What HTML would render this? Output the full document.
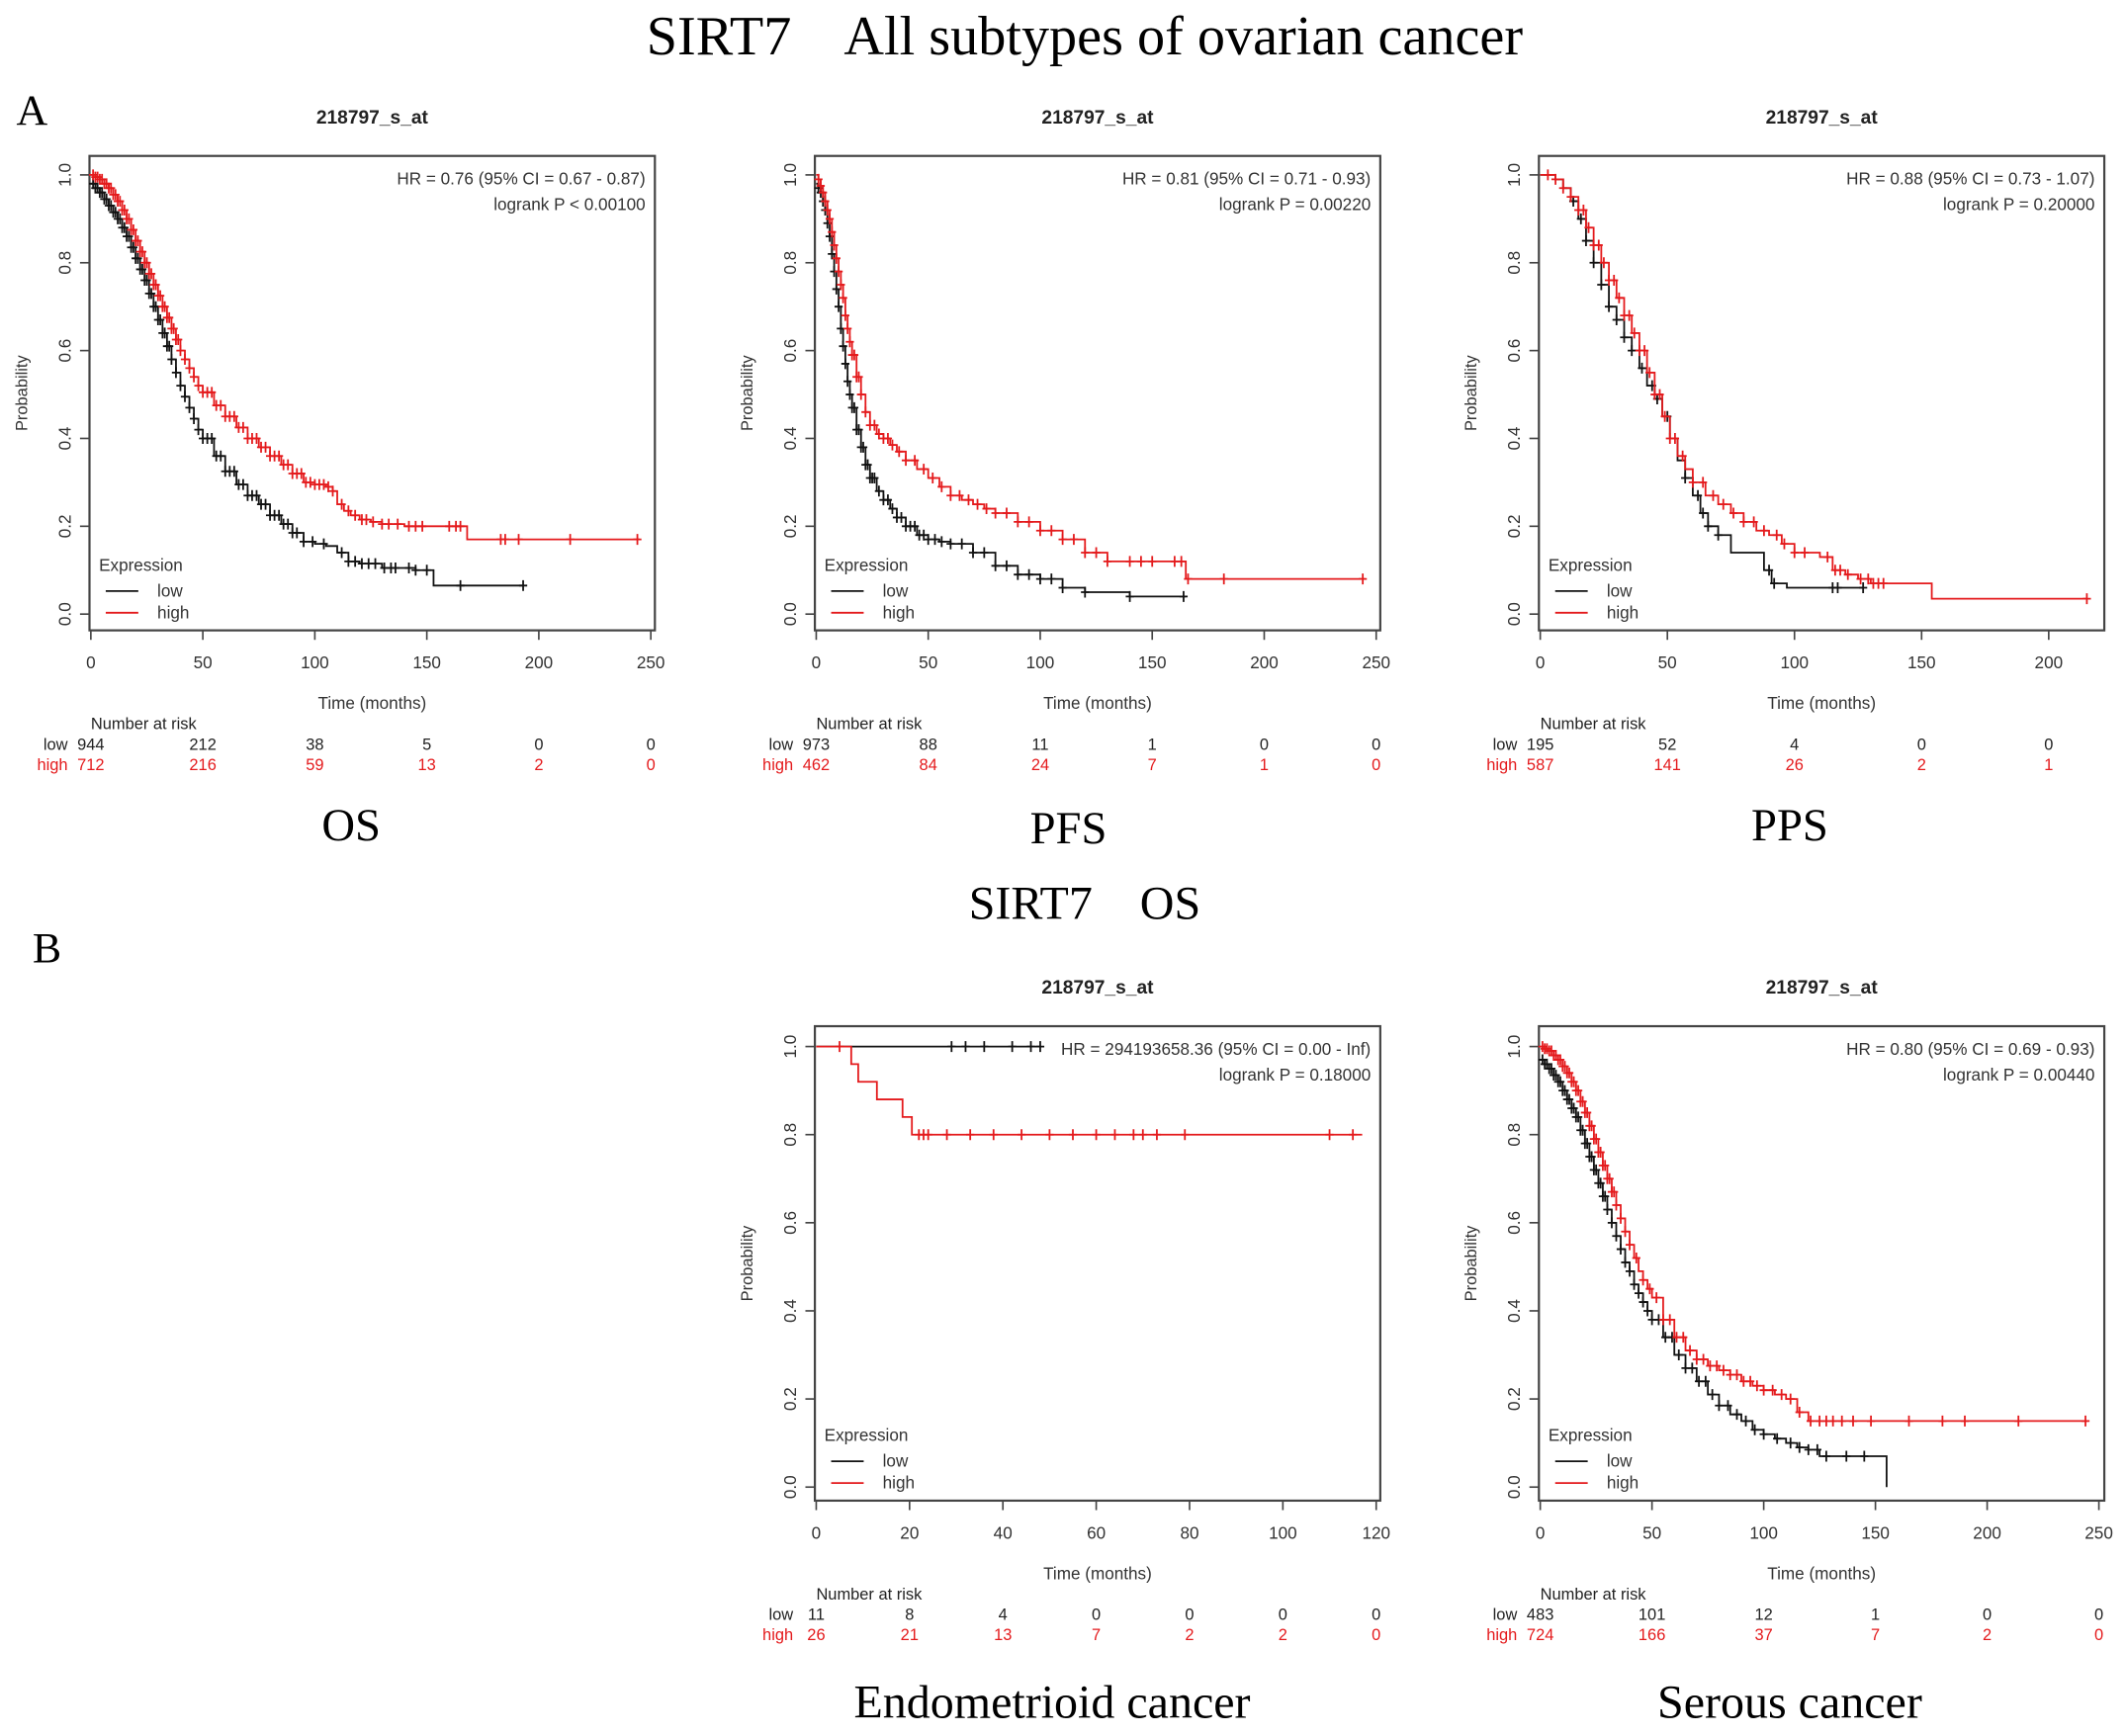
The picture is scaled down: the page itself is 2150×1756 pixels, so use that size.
<!DOCTYPE html>
<html><head><meta charset="utf-8"><style>
html,body{margin:0;padding:0;background:#fff;}
svg{display:block;}
.t{font-family:"Liberation Sans",Arial,sans-serif;}
.s{font-family:"Liberation Serif","Times New Roman",serif;}
</style></head><body>
<svg id="fig" xmlns="http://www.w3.org/2000/svg" width="2150" height="1756" viewBox="0 0 1568 1280.6">
<rect width="1568" height="1281" fill="#fff"/>
<text class="s" x="800" y="40" font-size="41" text-anchor="middle" xml:space="preserve">SIRT7    All subtypes of ovarian cancer</text>
<text class="s" x="12" y="92" font-size="32">A</text>
<text class="s" x="259" y="620" font-size="34" text-anchor="middle">OS</text>
<text class="s" x="788" y="622" font-size="34" text-anchor="middle">PFS</text>
<text class="s" x="1320" y="620" font-size="34" text-anchor="middle">PPS</text>
<text class="s" x="800" y="678" font-size="35" text-anchor="middle" xml:space="preserve">SIRT7    OS</text>
<text class="s" x="24" y="710" font-size="32">B</text>
<text class="s" x="776" y="1267" font-size="35" text-anchor="middle">Endometrioid cancer</text>
<text class="s" x="1320" y="1267" font-size="35" text-anchor="middle">Serous cancer</text>
</svg>
<script>
// ---- data ----
const osHighT=[0,2,4,6,8,10,12,14,16,18,20,22,24,26,28,30,32,34,36,38,40,42,44,46,48,50,55,60,65,70,75,80,85,90,95,100,105,108,110,113,116,120,125,130,140,150,160,168,245];
const osHighS=[1,.995,.99,.98,.97,.955,.94,.92,.90,.875,.85,.825,.80,.775,.75,.725,.70,.675,.65,.625,.60,.58,.56,.54,.52,.505,.475,.45,.425,.40,.38,.36,.34,.32,.30,.295,.29,.28,.25,.235,.225,.215,.21,.205,.20,.20,.20,.17,.17];
const osLowT=[0,2,4,6,8,10,12,14,16,18,20,22,24,26,28,30,32,34,36,38,40,42,44,46,48,50,55,60,65,70,75,80,85,90,95,100,105,110,115,120,130,145,153,193];
const osLowS=[.98,.97,.96,.945,.93,.915,.90,.88,.86,.835,.81,.785,.76,.73,.70,.67,.64,.61,.58,.55,.52,.495,.47,.445,.42,.40,.36,.325,.295,.27,.25,.225,.205,.185,.165,.16,.155,.14,.12,.115,.105,.10,.065,.065];
const osHighC=[1,2,3,4,5,6,7,8,9,10,11,12,13,14,15,16,17,18,19,20,21,22,23,24,25,26,27,28,29,30,31,32,33,34,35,36,37,38,39,40,42,44,46,48,50,52,54,56,58,60,62,64,66,68,70,72,74,76,78,80,82,84,86,88,90,92,94,96,98,100,102,104,106,108,112,115,118,121,123,126,130,133,137,142,145,148,160,163,165,183,185,191,214,244];
const osLowC=[1,2,3,4,5,6,7,8,9,10,11,12,13,14,15,16,17,18,19,20,21,22,23,24,25,26,27,28,29,30,31,32,33,34,35,36,38,40,42,44,46,48,50,52,54,56,58,60,62,64,66,68,70,72,74,76,78,80,82,84,86,88,90,92,95,99,104,112,115,118,121,124,127,131,134,136,142,145,150,165,193];
const pfsHighT=[0,1,2,3,4,5,6,7,8,9,10,11,12,13,14,15,16,18,20,22,24,27,30,33,36,40,45,50,55,60,65,70,75,80,90,100,110,120,130,140,150,160,165,245];
const pfsHighS=[1,.99,.975,.96,.94,.92,.90,.87,.84,.81,.78,.75,.72,.68,.65,.62,.59,.54,.50,.46,.43,.41,.40,.385,.37,.35,.33,.31,.29,.27,.26,.25,.24,.23,.21,.19,.17,.14,.12,.12,.12,.12,.08,.08];
const pfsLowT=[0,1,2,3,4,5,6,7,8,9,10,11,12,13,14,15,16,18,20,22,24,27,30,33,36,40,45,50,55,60,70,80,90,100,110,120,140,165];
const pfsLowS=[.98,.97,.96,.94,.92,.89,.86,.82,.78,.74,.70,.65,.61,.57,.53,.50,.47,.42,.38,.34,.31,.28,.26,.24,.22,.20,.18,.17,.165,.16,.14,.11,.09,.08,.06,.05,.04,.04];
const pfsHighC=[1,2,3,4,5,6,7,8,9,10,11,12,13,14,15,16,17,18,19,20,22,24,26,28,30,32,34,37,40,44,48,52,56,60,64,68,72,76,80,85,90,95,100,105,110,115,120,125,130,140,145,150,160,163,166,182,244];
const pfsLowC=[1,2,3,4,5,6,7,8,9,10,11,12,13,14,15,16,17,18,19,20,21,22,23,24,25,26,28,30,32,34,36,38,40,42,44,46,48,50,53,56,60,65,70,75,80,85,90,95,100,105,110,120,140,164];
const ppsHighT=[0,3,6,9,12,15,18,21,24,27,30,33,36,39,42,45,48,51,54,57,60,65,70,75,80,85,90,95,100,105,110,115,120,125,130,154,215];
const ppsHighS=[1,1,.99,.97,.95,.92,.88,.84,.80,.76,.72,.68,.64,.60,.55,.50,.45,.40,.36,.33,.30,.27,.25,.23,.21,.19,.18,.16,.14,.14,.13,.10,.09,.08,.07,.035,.035];
const ppsLowT=[0,3,6,9,12,15,18,21,24,27,30,33,36,39,42,45,48,51,54,57,60,63,66,70,75,80,85,88,91,97,127];
const ppsLowS=[1,1,.99,.97,.94,.90,.85,.80,.75,.70,.67,.63,.60,.56,.52,.49,.45,.40,.35,.31,.27,.23,.20,.18,.14,.14,.14,.10,.07,.06,.06];
const ppsHighC=[3,6,9,12,15,17,19,21,23,25,27,29,31,33,35,37,39,41,43,45,47,49,51,53,56,60,64,68,72,76,80,84,88,93,96,100,104,113,116,118,121,126,129,131,133,135,215];
const ppsLowC=[13,16,18,21,24,27,30,33,36,40,44,46,50,57,62,64,66,70,90,92,115,117,127];
const endoHighT=[0,7.5,9,13,18.5,20.5,117];
const endoHighS=[1,0.96,0.92,0.88,0.84,0.8,0.8];
const endoLowT=[0,48];
const endoLowS=[1,1];
const endoHighC=[5,22,23,24,28,33,38,44,50,55,60,64,68,70,73,79,110,115];
const endoLowC=[29,32,36,42,46,48];
const serHighT=[0,2,4,6,8,10,12,14,16,18,20,22,24,26,28,30,32,34,36,38,40,42,44,46,48,50,55,60,65,70,75,80,85,90,95,100,105,110,115,120,245];
const serHighS=[1,.995,.99,.98,.97,.955,.94,.92,.90,.875,.85,.82,.79,.76,.73,.70,.67,.64,.61,.58,.55,.52,.49,.47,.45,.43,.38,.34,.31,.29,.275,.265,.255,.24,.23,.22,.21,.20,.17,.15,.15];
const serLowT=[0,2,4,6,8,10,12,14,16,18,20,22,24,26,28,30,32,34,36,38,40,42,44,46,48,50,55,60,65,70,75,80,85,90,95,100,105,110,115,120,125,130,155];
const serLowS=[.97,.96,.95,.935,.92,.90,.88,.86,.84,.81,.78,.75,.72,.69,.66,.63,.60,.57,.54,.51,.49,.46,.44,.42,.40,.38,.34,.30,.27,.24,.21,.185,.165,.15,.13,.12,.11,.10,.09,.085,.07,.07,0];
const serHighC=[1,2,3,4,5,6,7,8,9,10,11,12,13,14,15,16,17,18,19,20,21,22,23,24,25,26,27,28,29,30,31,32,33,34,36,38,40,43,46,49,52,55,58,61,64,67,70,73,76,79,82,85,88,91,94,97,100,104,108,112,116,121,125,128,131,135,140,148,165,180,190,214,244];
const serLowC=[1,2,3,4,5,6,7,8,9,10,11,12,13,14,15,16,17,18,19,20,21,22,23,24,25,26,27,28,29,30,32,34,36,38,40,42,44,46,48,50,53,56,59,62,65,68,71,74,77,80,84,88,92,96,100,106,112,116,120,124,128,137,145];
const osTicks=[0,50,100,150,200,250], osRiskLow=[944,212,38,5,0,0], osRiskHigh=[712,216,59,13,2,0];
const pfsTicks=[0,50,100,150,200,250], pfsRiskLow=[973,88,11,1,0,0], pfsRiskHigh=[462,84,24,7,1,0];
const ppsTicks=[0,50,100,150,200], ppsRiskLow=[195,52,4,0,0], ppsRiskHigh=[587,141,26,2,1];
const endoTicks=[0,20,40,60,80,100,120], endoRiskLow=[11,8,4,0,0,0,0], endoRiskHigh=[26,21,13,7,2,2,0];
const serTicks=[0,50,100,150,200,250], serRiskLow=[483,101,12,1,0,0], serRiskHigh=[724,166,37,7,2,0];
const yTicks=[0,0.2,0.4,0.6,0.8,1.0];

const svg=document.getElementById('fig');
const NS='http://www.w3.org/2000/svg';
function mk(tag,attrs,parent){const e=document.createElementNS(NS,tag);for(const k in attrs)e.setAttribute(k,attrs[k]);(parent||svg).appendChild(e);return e;}
function txt(s,attrs,parent){const e=mk('text',attrs,parent);e.textContent=s;e.setAttribute('class','t');return e;}
function survAt(T,S,t){let v=S[0];for(let i=0;i<T.length;i++){if(T[i]<=t)v=S[i];}return v;}

function panel(p){
  const g=mk('g',{});
  
  
  const X=t=>p.px0+(t-0)*(p.px1-p.px0)/p.xmax;
  const Y=s=>p.py0+(1-s)*(p.py1-p.py0);
  const cx=(p.bx0+p.bx1)/2;
  const tt=txt('218797_s_at',{x:cx,y:p.by0-24,'font-size':14,'font-weight':'bold','text-anchor':'middle',fill:'#222'},g);
  
  
  const box=mk('rect',{x:p.bx0,y:p.by0,width:p.bx1-p.bx0,height:p.by1-p.by0,fill:'none',stroke:'#444','stroke-width':1.6},g);
  
  
  yTicks.forEach(v=>{
    mk('line',{x1:p.bx0-7,x2:p.bx0,y1:Y(v),y2:Y(v),stroke:'#444','stroke-width':1.2},g);
    const l=txt(v.toFixed(1),{x:p.bx0-14,y:Y(v),'font-size':12.5,'text-anchor':'middle',fill:'#333',transform:`rotate(-90 ${p.bx0-14} ${Y(v)})`},g);
    
    
  });
  const yl=txt('Probability',{x:p.bx0-46,y:(p.by0+p.by1)/2,'font-size':12,'text-anchor':'middle',fill:'#333',transform:`rotate(-90 ${p.bx0-46} ${(p.by0+p.by1)/2})`},g);
  
  
  mk('line',{x1:X(p.ticks[0]),x2:X(p.ticks[p.ticks.length-1]),y1:p.by1,y2:p.by1,stroke:'#444','stroke-width':1.2},g);
  p.ticks.forEach(v=>{
    mk('line',{x1:X(v),x2:X(v),y1:p.by1,y2:p.by1+7,stroke:'#444','stroke-width':1.2},g);
    const l=txt(String(v),{x:X(v),y:p.by1+28,'font-size':12.5,'text-anchor':'middle',fill:'#333'},g);
    
    
  });
  const xl=txt('Time (months)',{x:cx,y:p.by1+58,'font-size':12.5,'text-anchor':'middle',fill:'#333'},g);
  
  
  const h1=txt(p.hr,{x:p.bx1-7,y:p.by0+21,'font-size':12.5,'text-anchor':'end',fill:'#333'},g);
  
  
  const h2=txt(p.pv,{x:p.bx1-7,y:p.by0+40,'font-size':12.5,'text-anchor':'end',fill:'#333'},g);
  
  
  h2.setAttribute('xml:space','preserve');
  function curve(T,S,C,col,nm){
    let d=`M${X(T[0])},${Y(S[0])}`;
    for(let i=1;i<T.length;i++){d+=` H${X(T[i])} V${Y(S[i])}`;}
    const path=mk('path',{d:d,fill:'none',stroke:col,'stroke-width':1.3},g);
    
    
    C.forEach(c=>{
      const x=X(c),y=Y(survAt(T,S,c));
      const m=mk('path',{d:`M${x},${y-4} V${y+4} M${x-3},${y} H${x+3}`,stroke:col,'stroke-width':1.3},g);
      
      
    });
  }
  curve(p.lowT,p.lowS,p.lowC,'#111','low');
  curve(p.highT,p.highS,p.highC,'#e41a1c','high');
  const lg=mk('g',{},g);
  
  
  txt('Expression',{x:p.bx0+7,y:p.by1-44,'font-size':12.5,fill:'#333'},lg);
  mk('line',{x1:p.bx0+12,x2:p.bx0+36,y1:p.by1-29,y2:p.by1-29,stroke:'#111','stroke-width':1.3},lg);
  txt('low',{x:p.bx0+50,y:p.by1-25,'font-size':12.5,fill:'#333'},lg);
  mk('line',{x1:p.bx0+12,x2:p.bx0+36,y1:p.by1-13,y2:p.by1-13,stroke:'#e41a1c','stroke-width':1.3},lg);
  txt('high',{x:p.bx0+50,y:p.by1-9,'font-size':12.5,fill:'#333'},lg);
  const rt=mk('g',{},g);
  
  
  txt('Number at risk',{x:p.bx0+1,y:p.by1+73,'font-size':12,fill:'#222'},rt);
  txt('low',{x:p.bx0-16,y:p.by1+88,'font-size':12,'text-anchor':'end',fill:'#222'},rt);
  txt('high',{x:p.bx0-16,y:p.by1+103,'font-size':12,'text-anchor':'end',fill:'#e41a1c'},rt);
  p.ticks.forEach((v,i)=>{
    txt(String(p.rLow[i]),{x:X(v),y:p.by1+88,'font-size':12,'text-anchor':'middle',fill:'#222'},rt);
    txt(String(p.rHigh[i]),{x:X(v),y:p.by1+103,'font-size':12,'text-anchor':'middle',fill:'#e41a1c'},rt);
  });
}
const A={by0:115,by1:465,py0:129,py1:453};
const B={by0:757,by1:1107,py0:772,py1:1097};
panel(Object.assign({name:'os-panel',bx0:66,bx1:483,px0:67,px1:480,xmax:250,ticks:osTicks,rLow:osRiskLow,rHigh:osRiskHigh,
  hr:'HR = 0.76 (95% CI = 0.67 - 0.87)',pv:'logrank P <  0.00100',lowT:osLowT,lowS:osLowS,lowC:osLowC,highT:osHighT,highS:osHighS,highC:osHighC},A));
panel(Object.assign({name:'pfs-panel',bx0:601,bx1:1018,px0:602,px1:1015,xmax:250,ticks:pfsTicks,rLow:pfsRiskLow,rHigh:pfsRiskHigh,
  hr:'HR = 0.81 (95% CI = 0.71 - 0.93)',pv:'logrank P =  0.00220',lowT:pfsLowT,lowS:pfsLowS,lowC:pfsLowC,highT:pfsHighT,highS:pfsHighS,highC:pfsHighC},A));
panel(Object.assign({name:'pps-panel',bx0:1135,bx1:1552,px0:1136,px1:1511,xmax:200,ticks:ppsTicks,rLow:ppsRiskLow,rHigh:ppsRiskHigh,
  hr:'HR = 0.88 (95% CI = 0.73 - 1.07)',pv:'logrank P =  0.20000',lowT:ppsLowT,lowS:ppsLowS,lowC:ppsLowC,highT:ppsHighT,highS:ppsHighS,highC:ppsHighC},A));
panel(Object.assign({name:'endometrioid-panel',bx0:601,bx1:1018,px0:602,px1:1015,xmax:120,ticks:endoTicks,rLow:endoRiskLow,rHigh:endoRiskHigh,
  hr:'HR = 294193658.36 (95% CI = 0.00 - Inf)',pv:'logrank P =  0.18000',lowT:endoLowT,lowS:endoLowS,lowC:endoLowC,highT:endoHighT,highS:endoHighS,highC:endoHighC},B));
panel(Object.assign({name:'serous-panel',bx0:1135,bx1:1552,px0:1136,px1:1548,xmax:250,ticks:serTicks,rLow:serRiskLow,rHigh:serRiskHigh,
  hr:'HR = 0.80 (95% CI = 0.69 - 0.93)',pv:'logrank P =  0.00440',lowT:serLowT,lowS:serLowS,lowC:serLowC,highT:serHighT,highS:serHighS,highC:serHighC},B));
</script>
</body></html>
